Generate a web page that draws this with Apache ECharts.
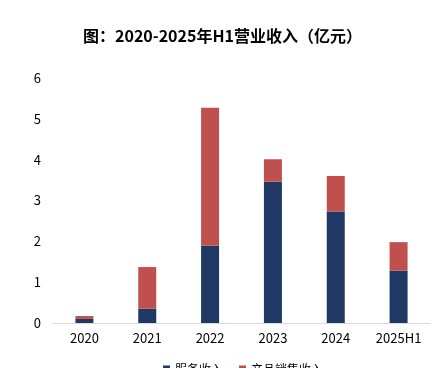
<!DOCTYPE html>
<html>
<head>
<meta charset="utf-8">
<script src="https://cdn.jsdelivr.net/npm/echarts@6/dist/echarts.min.js"></script>
<style>
    html, body { margin: 0; padding: 0; background: #fff; }
    #chart { width: 445px; height: 368px; }
</style>
</head>
<body>
<div id="chart"></div>
<script>
    var categories = ['2020', '2021', '2022', '2023', '2024', '2025H1'];
    var serviceIncome = [0.10, 0.35, 1.89, 3.46, 2.73, 1.28];
    var productIncome = [0.07, 1.02, 3.38, 0.55, 0.87, 0.70];
    var yTicks = [0, 1, 2, 3, 4, 5, 6];

    var chart = echarts.init(document.getElementById('chart'));
    var font = '"Noto Sans CJK SC", "Noto Sans", sans-serif';

    var option = {
        title: {
            text: '图：2020-2025年H1营业收入（亿元）',
            left: 'center',
            top: 23,
            textStyle: { fontFamily: font, fontSize: 16, fontWeight: 'bold', color: '#000' }
        },
        legend: {
            data: ['服务收入', '产品销售收入'],
            top: 358,
            left: 158,
            itemWidth: 7,
            itemHeight: 7,
            itemGap: 16,
            icon: 'rect',
            textStyle: { fontFamily: font, fontSize: 12, color: '#000' }
        },
        grid: { left: 53, right: 15, top: 78, bottom: 45 },
        xAxis: {
            type: 'category',
            data: categories,
            axisLine: { lineStyle: { color: '#d9d9d9' } },
            axisTick: { show: false },
            axisLabel: { fontFamily: font, fontSize: 13, color: '#000', margin: 9 }
        },
        yAxis: {
            type: 'value',
            min: yTicks[0],
            max: yTicks[yTicks.length - 1],
            interval: 1,
            splitLine: { show: false },
            axisLine: { show: false },
            axisTick: { show: false },
            axisLabel: { fontFamily: font, fontSize: 13, color: '#000', margin: 12 }
        },
        series: [
            {
                name: '服务收入',
                type: 'bar',
                stack: 'total',
                barWidth: 18,
                itemStyle: { color: '#1F3864' },
                data: serviceIncome
            },
            {
                name: '产品销售收入',
                type: 'bar',
                stack: 'total',
                barWidth: 18,
                itemStyle: { color: '#C0504D' },
                data: productIncome
            }
        ]
    };

    chart.setOption(option);
</script>
</body>
</html>
